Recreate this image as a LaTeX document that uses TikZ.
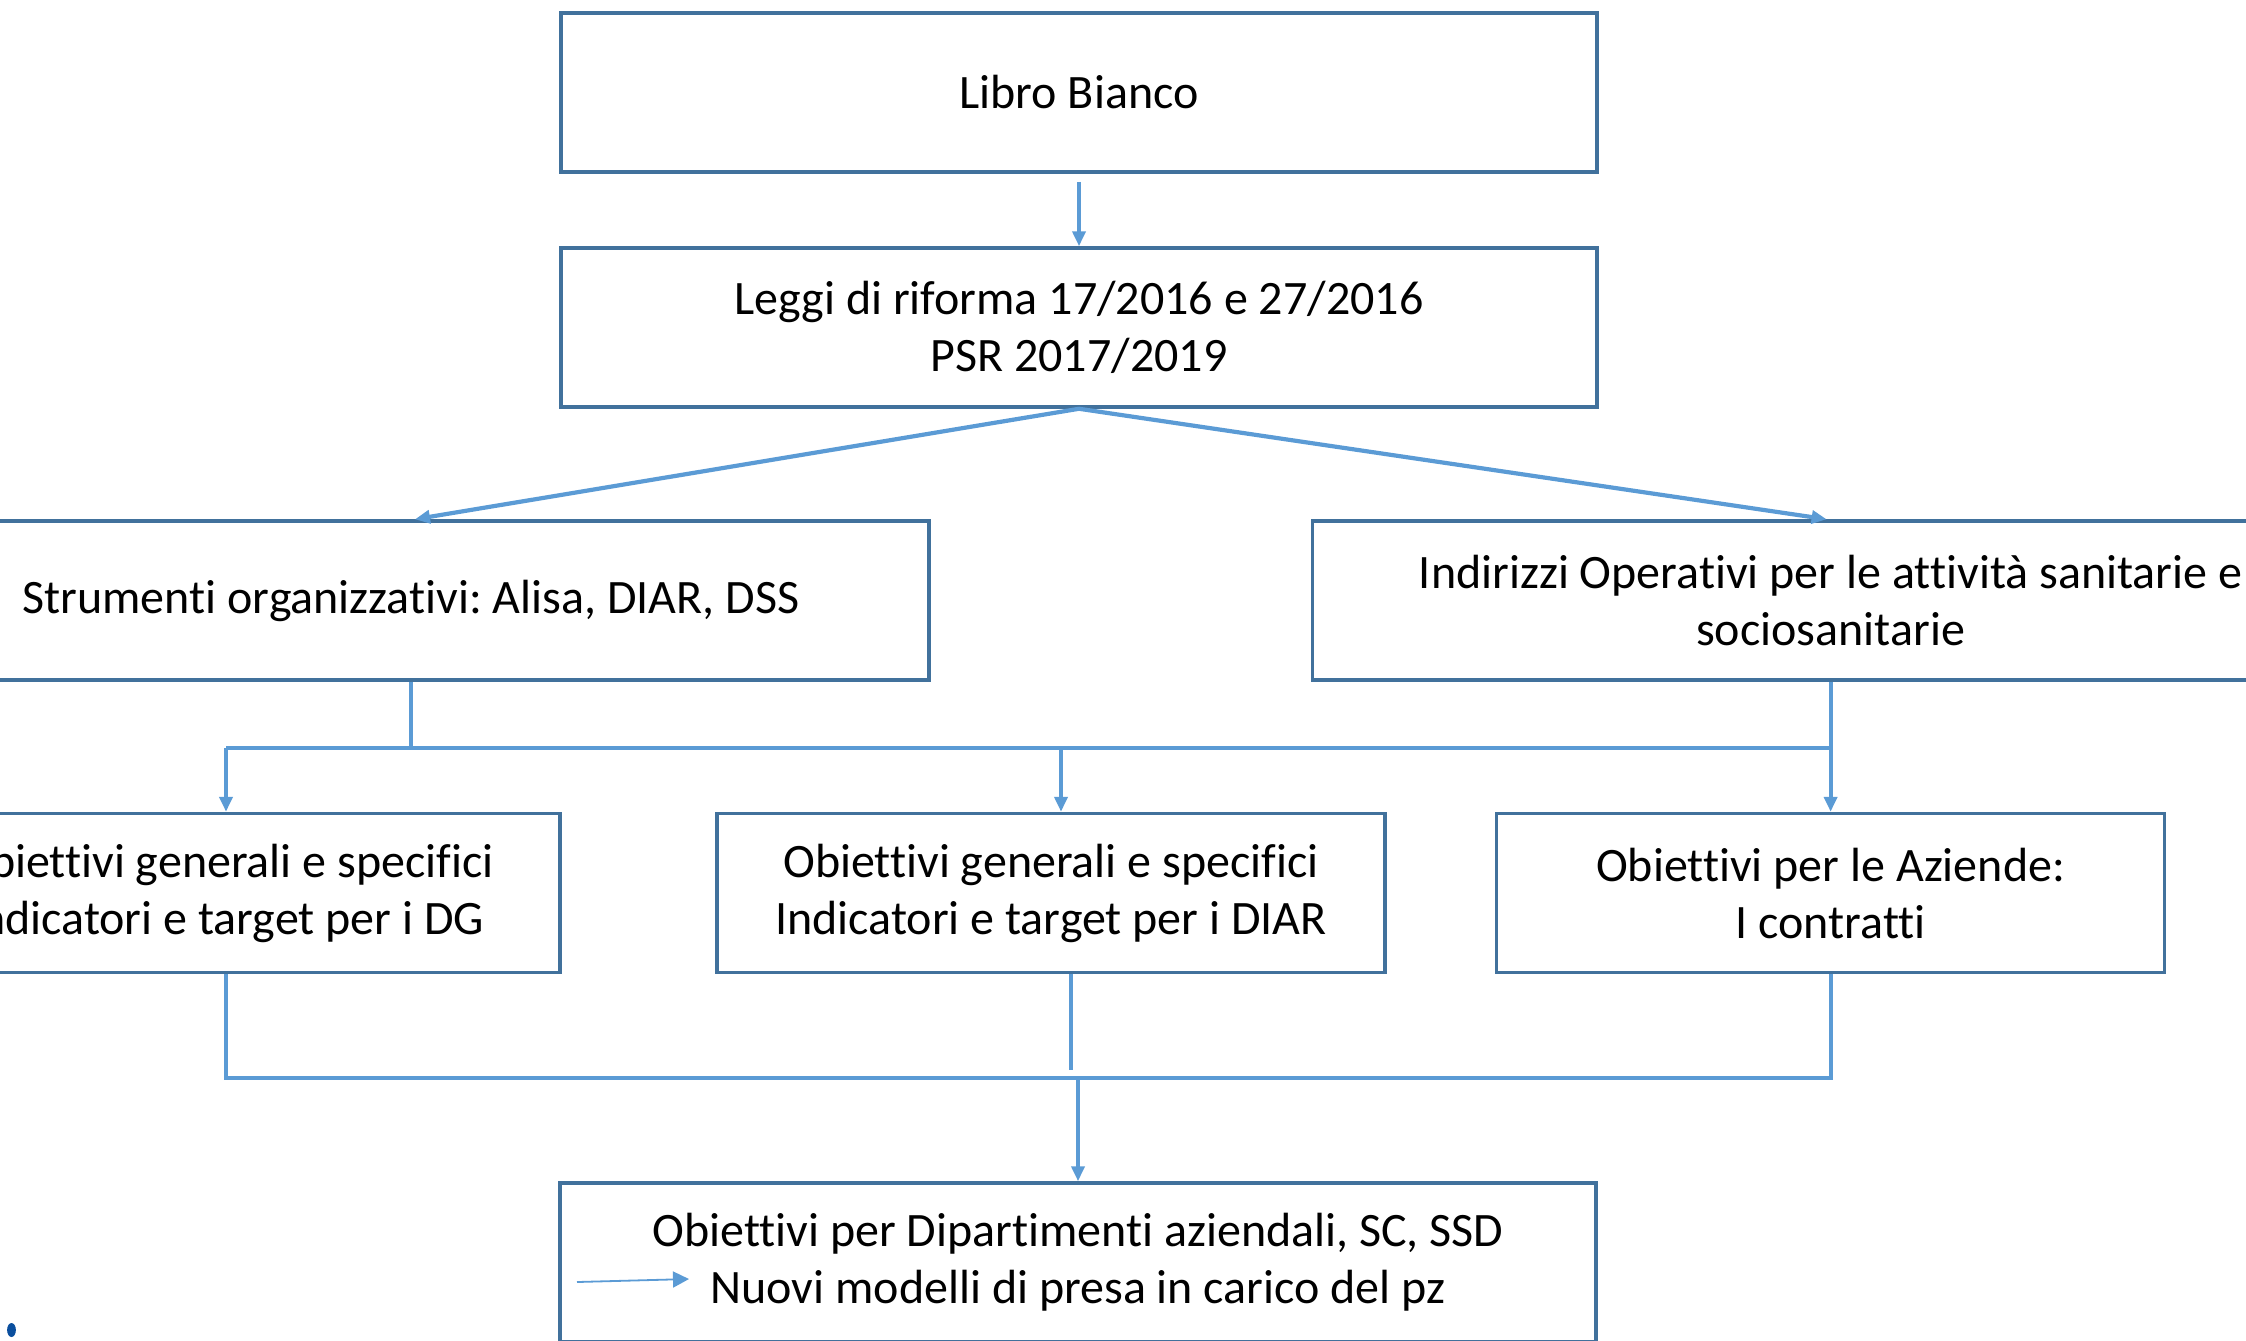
\documentclass[tikz,border=0pt]{standalone}
\usepackage{fontspec}
\setmainfont{Carlito}[Ligatures=NoCommon]
\usetikzlibrary{arrows.meta}
\definecolor{boxline}{HTML}{41719C}
\definecolor{conn}{HTML}{5B9BD5}
\definecolor{dotblue}{HTML}{0B4F9E}
\tikzset{
  wbox/.style={draw=boxline, line width=1.75pt, minimum width=518pt, minimum height=79.5pt, inner sep=0pt, align=center, font=\fontsize{24pt}{28.5pt}\selectfont},
  nbox/.style={wbox, minimum width=334pt},
  link/.style={draw=conn, line width=1.9pt},
  arr/.style={link, -{Triangle[length=7.5pt,width=6.5pt]}},
}
\begin{document}
\frenchspacing
\begin{tikzpicture}[x=0.5pt,y=-0.5pt]
\useasboundingbox (0,0) rectangle (2246,1340);
\clip (0,0) rectangle (2246,1340);
\node[wbox] (b1) at (1079,92.5) {Libro Bianco};
\node[wbox] (b2) at (1079,327.5) {Leggi di riforma 17/2016 e 27/2016\\PSR 2017/2019};
\node[wbox] (b3) at (411,600.5) {Strumenti organizzativi: Alisa, DIAR, DSS};
\node[wbox] (b4) at (1830.6,600.5) {Indirizzi Operativi per le attività sanitarie e\\sociosanitarie};
\node[nbox] (b5) at (226,893) {Obiettivi generali e specifici\\Indicatori e target per i DG};
\node[nbox] (b6) at (1051,893) {Obiettivi generali e specifici\\Indicatori e target per i DIAR};
\node[nbox] (b7) at (1830.6,893) {Obiettivi per le Aziende:\\I contratti};
\node[wbox] (b8) at (1078,1262.5) {Obiettivi per Dipartimenti aziendali, SC, SSD\\Nuovi modelli di presa in carico del pz};
\coordinate (busA) at (0,748);
\coordinate (busB) at (0,1078);
\coordinate (sa) at (577,1282);
\coordinate (sb) at (689,1279);
% connectors
\draw[arr] ([yshift=-4pt]b1.south) -- (b2.north);
\draw[arr, line width=2.1pt] (b2.south) -- ([xshift=2pt]b3.north);
\draw[arr, line width=2.1pt] (b2.south) -- ([xshift=-2pt]b4.north);
\draw[link] (b3.south) -- (b3.south |- busA);
\draw[link] (b5.north |- busA) -- (b7.north |- busA);
\draw[arr] (b4.south) -- (b7.north);
\draw[arr] (b5.north |- busA) -- (b5.north);
\draw[arr] ([xshift=5pt]b6.north |- busA) -- ([xshift=5pt]b6.north);
\draw[link] (b5.south) -- (b5.south |- busB) -- (b7.south |- busB) -- (b7.south);
\draw[link] ([xshift=10pt]b6.south) -- ([xshift=10pt,yshift=4pt]b6.south |- busB);
\draw[arr, line width=2.4pt] (b8.north |- busB) -- (b8.north);
\draw[draw=conn, line width=0.9pt, -{Triangle[length=8pt,width=8pt]}] (sa) -- (sb);
\fill[dotblue] (11.5,1330) ellipse [x radius=2.2pt, y radius=3.5pt];
\end{tikzpicture}
\end{document}
